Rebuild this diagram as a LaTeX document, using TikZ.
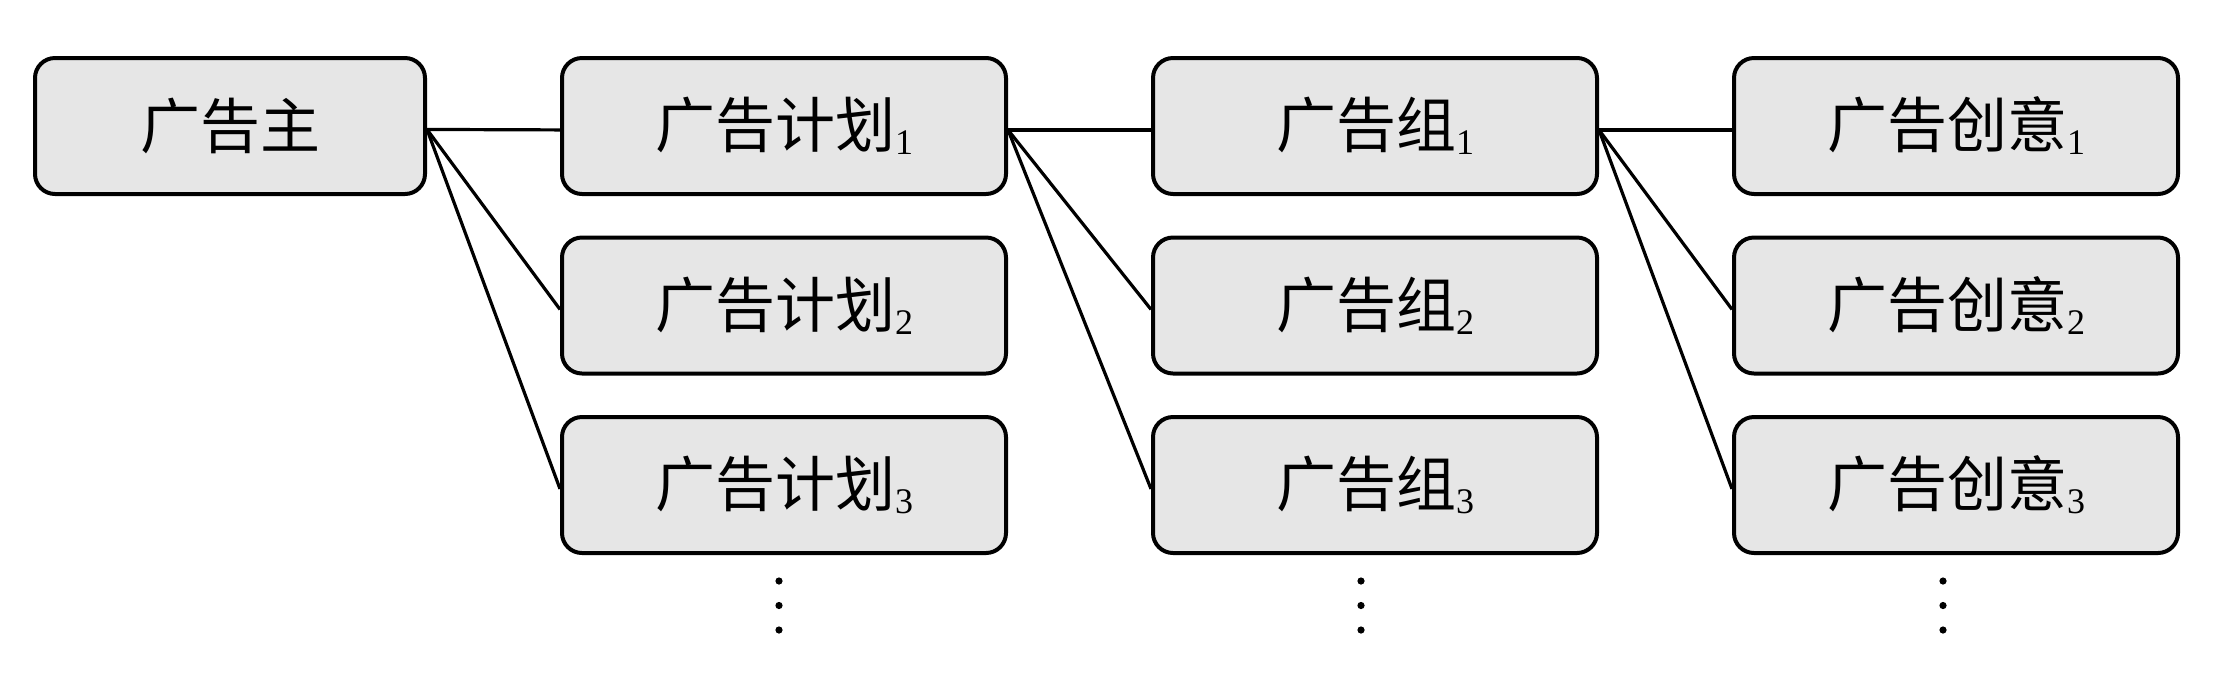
\documentclass[tikz,border=0pt]{standalone}
\usepackage{fontspec}
\setmainfont{Liberation Serif}
\newfontfamily\cjk{Noto Sans CJK SC}
\usepackage{tikz}

\definecolor{boxfill}{RGB}{230,230,230}
\newcommand{\sidx}[1]{\raisebox{-3.5pt}{\rmfamily\fontsize{18}{18}\selectfont #1}}

\tikzset{
  adbox/.style={draw, fill=boxfill, rounded corners=10pt, line width=2pt,
    minimum width=222pt, minimum height=68pt, inner sep=0pt,
    font=\fontsize{30}{36}\selectfont\cjk},
  link/.style={line width=1.6pt},
}

\begin{document}
\begin{tikzpicture}[x=0.5pt,y=0.5pt,yscale=-1]
\useasboundingbox (0,0) rectangle (2228,682);

%Advertiser
\node [adbox, minimum width=195pt] (adv) at (230,126) {广告主};

%Plans
\node [adbox] (plan1) at (784,126) {广告计划\sidx{1}};
\node [adbox] (plan2) at (784,305.5) {广告计划\sidx{2}};
\node [adbox] (plan3) at (784,485) {广告计划\sidx{3}};

%Groups
\node [adbox] (grp1) at (1375,126) {广告组\sidx{1}};
\node [adbox] (grp2) at (1375,305.5) {广告组\sidx{2}};
\node [adbox] (grp3) at (1375,485) {广告组\sidx{3}};

%Creatives
\node [adbox] (crea1) at (1956,126) {广告创意\sidx{1}};
\node [adbox] (crea2) at (1956,305.5) {广告创意\sidx{2}};
\node [adbox] (crea3) at (1956,485) {广告创意\sidx{3}};

%Straight Lines (a little below the middle of each side)
\draw [link] (adv.-1.2) -- (plan1.181);
\draw [link] (adv.-1.2) -- (plan2.181);
\draw [link] (adv.-1.2) -- (plan3.181);
\draw [link] (plan1.-1) -- (grp1.181);
\draw [link] (plan1.-1) -- (grp2.181);
\draw [link] (plan1.-1) -- (grp3.181);
\draw [link] (grp1.-1) -- (crea1.181);
\draw [link] (grp1.-1) -- (crea2.181);
\draw [link] (grp1.-1) -- (crea3.181);

%Dots
\coordinate (plandots) at (779,581);
\coordinate (grpdots) at (1361,581);
\coordinate (creadots) at (1943,581);
\fill (plandots) circle [radius=1.8pt] ++(0,24.5) circle [radius=1.8pt] ++(0,24.5) circle [radius=1.8pt];
\fill (grpdots) circle [radius=1.8pt] ++(0,24.5) circle [radius=1.8pt] ++(0,24.5) circle [radius=1.8pt];
\fill (creadots) circle [radius=1.8pt] ++(0,24.5) circle [radius=1.8pt] ++(0,24.5) circle [radius=1.8pt];

\end{tikzpicture}
\end{document}
